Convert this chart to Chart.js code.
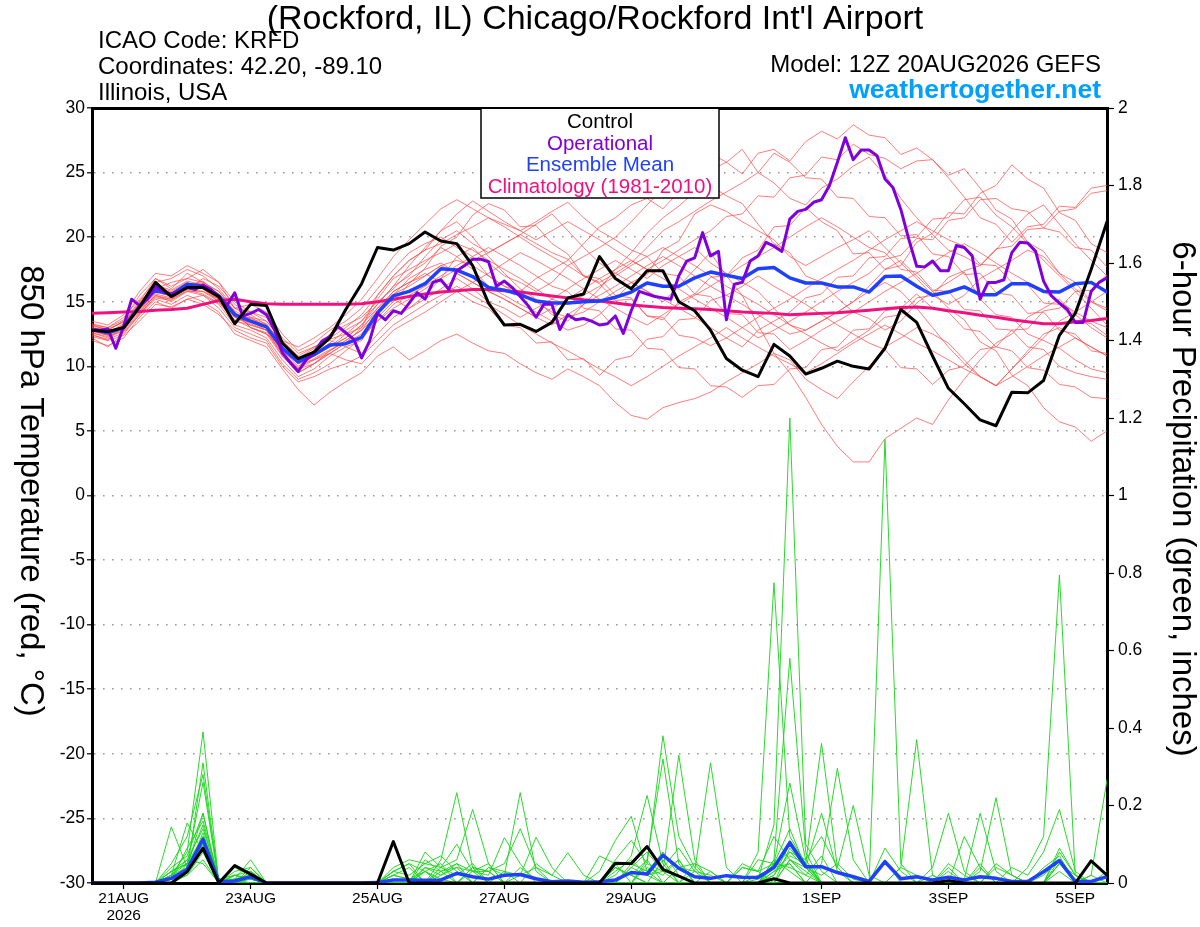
<!DOCTYPE html>
<html><head><meta charset="utf-8">
<script src="https://cdn.jsdelivr.net/npm/chart.js@4.4.1/dist/chart.umd.min.js"></script>
<style>html,body{margin:0;padding:0;background:#fff}#wrap{width:1200px;height:927px}</style>
</head><body><div id="wrap"><canvas id="c" width="1200" height="927"></canvas></div>
<script>
// ---------- data ----------
const stepHours = 6;      // ensemble / control / climatology interval
const opStepHours = 3;    // operational run interval
const xTickHours = [12, 60, 108, 156, 204, 276, 324, 372];
const xTickLabels = ['21AUG', '23AUG', '25AUG', '27AUG', '29AUG', '1SEP', '3SEP', '5SEP'];
const yearLabel = '2026';
const tempTicks = [-30, -25, -20, -15, -10, -5, 0, 5, 10, 15, 20, 25, 30];
const precipTicks = [0, 0.2, 0.4, 0.6, 0.8, 1, 1.2, 1.4, 1.6, 1.8, 2];
const precipTickLabels = ['0', '0.2', '0.4', '0.6', '0.8', '1', '1.2', '1.4', '1.6', '1.8', '2'];

const controlTemp = [12.8,12.7,13.0,14.6,16.5, 15.4,16.1,16.1,15.4,13.3, 14.8,14.7,11.8,10.6,11.1, 12.2,14.4,16.4,19.2,19.0, 19.5,20.4,19.7,19.5,17.8, 14.9,13.2,13.25,12.7,13.4, 15.3,15.6,18.5,16.8,16.0, 17.4,17.4,15.0,14.3,12.8, 10.6,9.7,9.2,11.7,10.8, 9.4,9.85,10.4,10.0,9.8, 11.4,14.4,13.4,10.8,8.3, 7.1,5.85,5.4,8.0,7.95, 8.9,12.4,14.1,17.5,21.2];
const operationalTemp = [12.85,12.8,12.9,11.4,13.1, 15.2,14.7,15.2,16.2,15.8, 15.6,15.8,16.1,15.95,16.3, 15.95,15.4,14.7,15.7,13.9, 14.1,14.4,14.0,12.85,11.05, 10.3,9.6,10.5,11.05,11.95, 12.3,13.1,12.6,12.1,10.65, 11.95,14.1,13.6,14.3,14.1, 14.9,15.7,15.2,16.5,16.7, 15.95,17.4,17.8,18.3,18.3, 18.1,16.2,16.6,16.1,15.4, 14.7,13.8,14.8,14.8,12.85, 14.0,13.6,13.7,13.5,13.2,
  13.3,13.9,12.55,14.3,15.8, 15.6,15.4,15.3,15.2,17.0, 18.15,18.4,20.35,18.55,18.9, 13.6,16.35,16.5,18.15,18.55, 19.6,19.3,18.9,21.4,22.0, 22.15,22.7,22.9,24.0,25.8, 27.7,26.0,26.75,26.75,26.3, 24.5,23.85,22.15,19.85,17.75, 17.7,18.15,17.4,17.4,19.35, 19.2,18.55,15.2,16.5,16.5, 16.7,18.8,19.6,19.55,18.9, 16.6,15.45,14.9,14.4,13.4, 13.4,15.8,16.5,16.85];
const meanTemp = [12.85,12.6,13.0,14.65,15.9, 15.55,16.35,16.2,15.45,14.0, 13.5,13.05,11.4,10.35,10.9, 11.65,11.75,12.25,14.15,15.45, 15.8,16.4,17.55,17.45,16.95, 16.1,15.9,15.55,15.05,14.9, 14.9,15.0,15.05,15.35,15.75, 16.45,16.2,16.2,16.85,17.3, 17.05,16.8,17.55,17.65,16.85, 16.45,16.45,16.15,16.15,15.75, 16.95,17.0,16.2,15.5,15.75, 16.15,15.55,15.55,16.4,16.4, 15.8,15.75,16.4,16.5,15.75];
const climoTemp = [14.1,14.15,14.2,14.25,14.35, 14.4,14.5,14.8,15.1,15.2, 15.0,14.85,14.8,14.8,14.8, 14.8,14.8,14.85,15.0,15.2, 15.4,15.6,15.75,15.85,15.95, 15.95,15.85,15.75,15.6,15.45, 15.3,15.15,15.05,14.9,14.75, 14.65,14.55,14.5,14.45,14.4, 14.3,14.2,14.15,14.1,14.0, 14.05,14.1,14.15,14.25,14.35, 14.45,14.55,14.6,14.5,14.3, 14.15,13.95,13.8,13.6,13.45, 13.3,13.3,13.45,13.55,13.7];
const controlPrecip = [0,0,0,0,0, 0,0.029,0.09,0,0.045, 0.023,0,0,0,0, 0,0,0,0,0.107, 0,0,0,0,0, 0,0,0,0,0, 0,0,0,0.051,0.05, 0.094,0.035,0.018,0,0, 0,0,0,0.011,0, 0,0,0,0,0, 0,0,0,0,0.006, 0,0,0,0,0, 0,0,0,0.057,0.02];
const meanPrecip = [0,0,0,0,0.002, 0.012,0.035,0.113,0.003,0.005, 0.016,0,0,0,0, 0,0,0,0.001,0.008, 0.008,0.007,0.008,0.025,0.016, 0.01,0.02,0.022,0.011,0.003, 0.005,0.002,0.003,0.008,0.027, 0.023,0.072,0.038,0.016,0.012, 0.019,0.015,0.014,0.04,0.104, 0.042,0.042,0.027,0.016,0.004, 0.055,0.011,0.016,0.008,0.015, 0.008,0.016,0.012,0.004,0.004, 0.029,0.058,0.004,0.004,0.016];

// ensemble member 850 hPa temperatures
const m01T = [12.5,12.0,13.2,15.0,16.8, 16.0,17.2,16.5,15.8,14.2, 13.0,12.5,10.8,9.5,10.2, 11.0,11.8,13.0,15.5,17.0, 18.2,19.0,20.5,21.2,20.0, 18.5,17.2,16.0,15.2,14.0, 13.5,14.8,16.0,17.5,18.8, 20.3,21.5,22.4,23.5,24.0, 23.2,22.6,21.0,19.5,18.8, 17.0,16.5,15.3,14.2,13.7, 12.8,13.5,14.9,15.8,16.5, 17.3,15.2,14.0,13.8,12.5, 12.0,11.4,10.5,9.8,9.5];
const m02T = [13.0,12.8,13.5,14.2,15.5, 15.2,16.0,16.8,16.2,14.8, 14.0,13.2,11.0,9.8,10.5, 11.2,12.0,12.8,14.0,15.2, 14.5,15.5,16.8,18.5,19.2, 18.0,17.0,16.5,15.8,16.5, 17.8,18.5,19.2,20.0,21.2, 22.5,23.8,23.2,25.2,26.5, 25.8,26.8,25.0,24.2,23.0, 22.5,23.8,24.5,25.5,26.2, 24.8,23.0,21.5,20.2,19.0, 18.5,17.8,19.0,20.5,21.8, 22.5,21.0,19.5,18.2,17.0];
const m03T = [12.2,11.5,12.5,14.0,15.2, 14.8,15.5,15.0,14.2,12.5, 12.0,11.5,9.8,8.2,7.0, 8.0,8.8,9.5,10.8,11.5, 10.5,11.2,12.0,12.5,11.8, 11.2,11.0,10.2,9.5,9.0, 9.8,9.2,8.5,7.2,6.2, 5.9,6.8,7.2,7.5,8.0, 8.8,9.5,10.2,11.0,10.5, 9.0,8.2,7.5,8.8,10.0, 11.5,12.2,13.0,12.5,11.8, 10.5,9.2,8.5,9.8,11.2, 12.5,13.0,12.2,11.5,10.8];
const m04T = [13.2,13.0,13.8,15.2,16.5, 16.8,17.5,17.0,16.0,14.5, 14.8,14.2,12.5,11.2,11.8, 12.8,13.5,14.5,16.0,17.5, 18.8,19.5,20.0,19.2,18.5, 17.0,16.2,15.8,16.8,17.5, 18.2,19.5,20.8,21.5,22.5, 23.0,22.2,23.5,24.8,25.2, 25.8,24.9,26.5,26.8,25.9, 27.4,28.2,27.6,28.7,27.9, 27.7,26.4,26.9,26.0,24.8, 25.3,23.8,22.1,21.4,19.6, 18.9,17.2,16.5,15.0,14.3];
const m05T = [12.8,12.5,13.0,14.5,15.8, 15.5,16.2,16.0,15.0,13.8, 13.2,12.8,11.2,10.0,10.8, 11.5,12.2,13.2,14.8,16.2, 17.0,18.5,19.8,20.5,19.5, 18.8,19.5,20.2,21.0,21.8, 20.5,19.2,18.0,17.2,16.5, 15.8,15.0,16.2,17.5,18.8, 17.0,15.5,13.2,11.0,9.5, 7.6,5.5,3.8,2.6,2.6, 4.4,5.2,6.0,5.5,7.4, 9.0,10.5,11.8,12.5,13.8, 14.5,15.2,14.0,13.0,12.2];
const m06T = [13.0,12.6,13.2,14.8,16.2, 15.8,16.5,16.0,15.2,13.5, 13.8,13.5,12.0,10.8,11.5, 12.0,11.5,11.0,12.5,13.8, 14.5,15.2,16.0,16.8,16.0, 15.0,14.5,13.8,14.5,15.2, 16.0,16.8,17.5,18.2,17.5, 16.8,17.8,18.5,19.2,18.0, 17.2,16.5,15.8,14.5,13.2, 12.8,13.5,14.2,15.0,16.2, 17.5,18.2,17.0,15.8,14.5, 13.6,11.9,11.2,9.3,8.5, 6.8,5.7,5.3,4.2,5.0];
const m07T = [12.6,12.2,12.8,14.2,15.5, 15.0,15.8,15.5,14.8,13.2, 12.8,12.2,10.5,9.2,9.8, 10.8,11.5,12.0,13.8,15.0, 16.4,17.6,19.3,20.0,21.7, 22.6,22.1,20.8,20.9,19.5, 18.7,17.0,16.4,15.1,15.2, 13.9,13.6,15.0,15.6,16.9, 17.0,18.4,19.0,20.8,20.9, 22.3,21.2,20.5,18.7,18.8, 17.5,17.8,19.6,20.3,21.9, 21.8,23.4,24.0,25.6,24.5, 23.8,21.9,21.3,19.5,18.8];
const m08T = [13.1,12.9,13.4,15.1,16.0, 15.6,16.2,16.6,15.5,14.2, 13.0,12.5,11.5,10.5,11.2, 12.5,13.2,13.8,15.0,16.0, 17.2,18.0,19.2,18.5,17.5, 16.2,15.5,14.8,14.2,13.5, 12.8,13.2,14.0,15.2,16.5, 17.1,19.0,19.7,21.8,22.5, 22.0,21.2,20.5,19.8,18.5, 17.8,18.5,19.2,19.8,20.5, 19.2,18.0,16.8,15.5,14.8, 15.5,16.8,17.5,18.2,19.0, 18.5,17.2,16.0,15.0,14.5];
const m09T = [12.9,12.7,13.1,14.5,16.0, 16.5,16.8,17.5,16.5,14.5, 13.8,13.0,11.2,10.2,10.5, 11.0,11.8,12.5,14.2,15.8, 16.5,17.0,17.8,18.2,17.8, 17.0,16.2,15.5,15.0,14.2, 13.8,14.2,15.0,15.8,16.5, 15.8,15.2,14.5,13.8,13.0, 12.2,11.5,12.8,13.5,14.2, 15.3,15.6,16.9,17.0,18.4, 18.5,19.9,20.0,21.4,21.5, 22.9,23.1,21.7,20.8,19.5, 18.2,17.0,15.8,14.5,13.2];
const m10T = [12.4,12.1,12.6,14.0,15.4, 15.2,15.8,15.8,15.0,13.5, 13.2,12.8,10.8,9.5,10.2, 11.0,10.5,10.2,11.5,12.8, 13.5,14.2,15.0,15.8,16.5, 15.8,15.2,14.5,13.8,13.2, 14.0,14.8,15.5,16.2,17.0, 17.8,18.5,17.8,17.0,16.2, 15.5,14.8,14.0,13.2,12.5, 12.8,13.5,14.2,15.0,15.8, 16.5,15.8,14.5,13.0,11.5, 10.2,9.2,8.5,9.8,11.0, 12.2,13.5,14.2,15.0,15.8];
const m11T = [13.3,13.0,13.6,15.5,16.8, 16.2,16.8,16.5,15.8,14.5, 14.2,13.8,12.2,11.0,11.5, 12.2,13.0,14.0,15.5,17.0, 18.2,19.0,19.5,20.2,20.8, 21.5,21.0,20.5,21.2,22.0, 22.7,21.5,20.5,19.8,19.0, 18.5,17.2,17.0,15.6,15.4, 14.1,14.0,12.6,12.5,11.3, 12.0,12.8,13.5,14.2,15.0, 15.8,16.5,17.2,18.0,18.8, 19.5,18.8,18.0,17.2,16.5, 15.8,15.0,14.2,13.5,13.0];
const m12T = [12.7,12.4,13.0,14.3,15.6, 15.3,16.0,15.8,15.2,14.0, 13.5,12.8,11.5,10.2,10.8, 11.5,12.5,13.5,15.2,16.8, 17.5,18.2,18.8,19.5,19.0, 18.2,17.5,16.8,16.0,15.2, 14.8,15.5,16.2,17.0,17.8, 18.5,19.2,18.5,17.8,17.0, 16.2,15.5,14.8,14.0,13.2, 12.5,11.8,11.2,12.0,12.8, 13.8,14.0,15.3,15.5,16.9, 17.4,17.8,19.1,19.3,20.6, 20.7,22.0,22.2,23.4,23.6];
const m13T = [12.0,11.6,12.2,13.8,15.0, 14.5,15.2,14.8,14.0,12.8, 12.2,11.8,10.0,8.8,9.2, 9.8,10.2,10.8,12.0,13.2, 14.0,14.8,15.5,16.2,15.5, 14.8,14.0,13.2,12.5,11.8, 11.2,10.5,9.8,9.2,8.5, 9.2,10.0,10.8,11.5,12.2, 13.0,12.2,11.5,10.8,10.2, 9.5,10.2,11.0,11.8,12.5, 13.2,12.5,11.8,11.2,10.5, 9.8,9.2,8.5,9.2,10.0, 10.8,11.5,12.2,11.5,10.8];
const m14T = [13.5,13.2,14.0,15.8,17.2, 17.0,17.8,17.2,16.5,15.0, 14.2,13.5,12.0,11.5,12.2, 13.0,14.0,15.2,16.8,18.5, 19.8,21.0,22.2,22.9,22.2, 21.5,20.8,20.0,19.2,18.5, 17.8,17.0,16.5,17.2,18.0, 19.2,20.5,21.2,22.0,22.8, 23.5,24.2,25.0,26.5,25.8, 24.6,24.5,23.1,23.0,21.6, 21.5,20.1,20.2,18.7,18.5, 17.1,17.2,15.7,15.5,14.1, 14.2,12.8,12.5,11.2,11.0];
const m15T = [12.3,12.0,12.4,13.5,14.8, 14.6,15.2,15.5,14.5,13.0, 12.5,12.0,10.2,9.0,9.5, 10.2,11.2,12.2,13.5,14.5, 15.2,16.0,16.8,17.5,18.2, 18.8,19.5,20.2,19.5,18.8, 18.3,17.0,16.8,15.5,15.3, 13.9,13.8,12.4,12.2,11.6, 12.2,13.0,13.8,14.5,15.2, 16.0,16.8,17.5,18.2,19.0, 19.8,20.5,21.2,20.5,19.8, 19.3,17.9,17.8,16.5,16.3, 14.9,14.8,13.5,13.3,12.4];
const m16T = [12.9,12.6,13.3,14.9,16.3, 15.9,16.6,16.3,15.6,14.3, 13.6,13.2,11.8,10.5,11.0, 11.8,12.8,13.5,14.8,16.2, 17.8,19.2,20.5,21.8,22.8, 22.0,21.2,20.5,19.8,20.5, 21.2,20.5,19.8,19.0,18.2, 17.5,18.2,19.0,19.8,20.5, 21.6,21.8,23.2,23.1,24.6, 24.8,26.2,26.0,27.2,26.4, 26.1,25.3,25.9,26.0,24.6, 23.1,21.5,21.0,19.6,20.8, 21.0,22.4,22.3,23.8,24.0];
const m17T = [13.2,12.8,13.5,14.6,15.8, 15.4,16.0,16.2,15.3,13.8, 13.3,12.8,11.0,9.8,10.2, 11.2,12.0,12.8,14.5,15.8, 16.5,17.2,16.5,15.8,15.0, 14.5,13.2,13.0,11.8,11.9, 10.5,10.6,9.3,10.5,10.8, 12.1,12.3,13.6,13.7,15.1, 15.5,16.2,17.0,16.2,15.5, 14.8,14.0,13.2,12.5,11.8, 11.3,9.9,9.8,8.6,9.7, 10.0,11.3,11.5,12.8,12.9, 14.3,14.5,15.8,15.9,17.1];
const m18T = [12.6,12.3,12.9,14.4,15.7, 15.5,16.3,16.0,15.2,13.8, 13.4,13.0,11.5,10.5,11.0, 11.5,12.2,13.2,14.5,15.5, 16.8,17.5,18.0,17.2,16.5, 17.2,18.0,18.8,18.2,17.5, 16.8,16.0,15.2,14.5,13.8, 13.2,14.0,14.8,15.5,16.2, 17.0,17.8,18.5,19.2,20.0, 20.8,21.5,20.8,20.0,19.2, 18.8,17.5,17.3,15.9,15.8, 14.4,14.3,12.9,12.8,11.5, 11.3,10.0,9.5,9.2,9.0];
const m19T = [13.0,12.5,13.1,14.7,16.1, 15.7,16.4,16.4,15.4,14.1, 13.7,13.3,11.7,10.6,11.4, 12.1,12.5,13.0,14.2,15.6, 16.2,17.0,17.8,17.2,16.5, 15.8,15.2,14.5,13.8,14.5, 15.2,16.0,16.8,17.5,18.2, 17.5,16.8,16.0,15.2,14.5, 13.8,13.0,12.2,12.8,13.5, 14.2,15.0,15.8,16.5,17.2, 18.3,18.6,19.9,19.8,21.3, 21.5,22.9,23.0,22.2,22.0, 20.7,20.4,19.2,19.0,17.7];
const m20T = [12.8,12.4,12.7,14.1,15.3, 15.1,15.9,15.6,14.9,13.6, 13.0,12.6,11.0,9.9,10.6, 11.3,11.8,12.3,13.5,14.8, 15.5,16.2,17.0,17.8,18.5, 19.2,18.5,17.8,17.0,16.2, 15.8,14.5,14.3,12.9,12.8, 11.4,11.3,9.9,9.8,8.5, 8.4,7.6,8.5,8.6,9.8, 9.9,11.3,11.5,12.8,12.9, 14.3,14.5,15.6,14.5,14.2, 12.9,12.7,11.5,11.2,9.9, 9.7,8.6,8.4,7.6,7.5];

// ensemble member 6-hour precipitation
const m01P = [0,0,0,0,0, 0.02,0.08,0.39,0,0, 0.01,0,0,0,0, 0,0,0,0,0.02, 0.01,0.03,0,0,0, 0,0,0.04,0.01,0, 0,0,0,0,0.05, 0.03,0.08,0.02,0,0, 0,0,0.01,0.15,1.2, 0.1,0.03,0,0,0, 0,0,0,0.02,0, 0,0,0,0,0, 0,0.03,0,0,0];
const m02P = [0,0,0,0,0, 0.05,0.12,0.28,0,0.03, 0.04,0,0,0,0, 0,0,0,0,0.04, 0.06,0.05,0.07,0.03,0, 0,0,0,0,0, 0,0,0,0.04,0.02, 0.06,0,0,0,0, 0,0,0,0.02,0.08, 0.04,0.02,0.05,0.01,0, 1.145,0.05,0,0,0, 0,0,0,0,0, 0,0.05,0,0,0];
const m03P = [0,0,0,0,0, 0,0.04,0.18,0,0.02, 0.01,0,0,0,0, 0,0,0,0,0, 0,0.08,0.04,0.1,0.03, 0,0,0,0,0, 0,0,0,0.03,0.06, 0.02,0.04,0.09,0.03,0, 0,0,0.08,0.775,0.12, 0.05,0,0,0,0, 0,0,0,0,0.05, 0.02,0,0,0,0.04, 0.12,0.795,0.02,0,0];
const m04P = [0,0,0,0,0, 0.01,0.03,0.13,0,0, 0.03,0,0,0,0, 0,0,0,0,0, 0,0.06,0.03,0,0, 0,0,0,0.05,0.02, 0,0,0,0.06,0.11, 0.05,0.38,0.12,0.04,0, 0,0,0,0.06,0.58, 0.08,0,0,0,0, 0,0,0,0,0, 0,0.04,0,0,0, 0,0,0,0.02,0];
const m05P = [0,0,0,0,0, 0.03,0.06,0.14,0.01,0, 0.02,0,0,0,0, 0,0,0,0,0.03, 0.05,0,0.06,0.233,0.04, 0,0,0,0,0, 0,0,0,0,0.04, 0.08,0.03,0.33,0.06,0, 0,0,0,0.02,0.1, 0.05,0.36,0.04,0,0, 0,0,0,0,0.04, 0,0,0,0,0, 0,0.06,0,0,0];
const m06P = [0,0,0,0,0, 0,0.05,0.26,0,0.01, 0.06,0,0,0,0, 0,0,0,0,0, 0,0.03,0.05,0,0, 0.04,0.02,0.233,0.03,0, 0,0,0,0,0, 0,0,0.04,0.03,0.31, 0.04,0,0,0,0.06, 0.02,0,0,0,0, 0,0.04,0.37,0.02,0, 0,0,0,0,0, 0,0,0,0,0.03];
const m07P = [0,0,0,0,0, 0.145,0.04,0.1,0,0, 0,0,0,0,0, 0,0,0,0,0.03, 0.02,0.05,0.04,0.06,0.19, 0.05,0,0,0,0, 0,0,0,0.02,0.07, 0.226,0.05,0,0,0, 0,0,0,0,0, 0,0.05,0.296,0.06,0, 0,0,0,0,0, 0,0,0,0,0, 0,0.05,0.02,0,0];
const m08P = [0,0,0,0,0, 0.02,0.155,0.08,0,0, 0,0,0,0,0, 0,0,0,0,0, 0,0.04,0.02,0.05,0.03, 0.02,0.117,0.05,0,0, 0,0,0,0,0, 0.04,0.02,0.06,0,0, 0,0,0,0.05,0.08, 0.06,0.12,0.04,0.2,0.02, 0,0,0,0,0, 0,0.03,0.22,0.02,0, 0,0,0,0,0];
const m09P = [0,0,0,0,0, 0.01,0.09,0.16,0.01,0, 0.04,0,0,0,0, 0,0,0,0,0, 0,0,0,0,0.04, 0.03,0.05,0.14,0.04,0.02, 0.078,0.02,0,0,0, 0,0.06,0,0,0, 0,0,0,0.03,0.05, 0,0,0,0,0, 0,0,0,0.04,0.18, 0.03,0,0,0,0, 0,0,0,0.02,0.266];
const m10P = [0,0,0,0,0, 0,0.03,0.31,0,0.04, 0.02,0,0,0,0, 0,0,0,0,0.03, 0.05,0.03,0,0,0, 0,0,0.02,0.118,0.04, 0,0,0,0,0, 0.06,0.32,0.05,0,0, 0,0,0,0,0.09, 0.04,0,0,0,0, 0,0,0,0,0, 0.01,0.18,0.03,0,0, 0,0,0,0,0];
const m11P = [0,0,0,0,0, 0.04,0.07,0.18,0,0, 0.03,0,0,0,0, 0,0,0,0,0, 0,0,0.02,0.04,0.03, 0.05,0,0,0,0, 0,0,0.07,0.05,0, 0,0,0,0.05,0.03, 0,0,0.06,0.05,0.258, 0.06,0,0,0,0, 0,0,0,0,0, 0,0,0,0.04,0.02, 0.08,0.19,0.03,0,0];
const m12P = [0,0,0,0,0, 0.02,0.05,0.12,0.01,0.02, 0.01,0,0,0,0, 0,0,0,0,0, 0,0.04,0.03,0.05,0, 0,0,0,0,0, 0,0,0.03,0.11,0.172, 0.03,0,0,0,0, 0,0,0,0,0.06, 0.04,0.18,0.03,0,0, 0,0,0,0,0, 0.12,0.04,0,0,0, 0,0,0,0,0];
const m13P = [0,0,0,0,0, 0.01,0.02,0.06,0,0, 0,0,0,0,0, 0,0,0,0,0, 0,0,0.03,0.04,0, 0,0,0,0,0, 0,0,0,0,0.03, 0.02,0,0,0,0, 0,0,0.02,0.04,0.11, 0.05,0,0,0,0, 0,0,0,0,0, 0,0,0,0,0, 0.02,0.06,0,0,0];
const m14P = [0,0,0,0,0, 0.03,0.05,0.15,0,0.01, 0,0,0,0,0, 0,0,0,0,0.02, 0.01,0,0,0,0, 0.04,0.03,0,0,0, 0,0,0,0.04,0.02, 0,0,0,0,0, 0,0.05,0.03,0.12,0.06, 0.03,0,0,0,0, 0.06,0,0,0,0, 0,0.05,0,0,0, 0,0,0,0,0];
const m15P = [0,0,0,0,0, 0.01,0.04,0.11,0,0.02, 0.03,0,0,0,0, 0,0,0,0,0, 0,0.03,0.01,0,0, 0,0,0,0,0, 0,0,0,0,0.04, 0.02,0.03,0.06,0,0, 0,0,0,0.05,0.04, 0.02,0.07,0,0,0, 0,0,0,0,0, 0,0,0.04,0.02,0, 0,0,0,0,0];
const m16P = [0,0,0,0,0, 0.02,0.06,0.05,0,0, 0.02,0,0,0,0, 0,0,0,0,0, 0,0,0.04,0.02,0.05, 0,0,0,0,0, 0,0,0,0,0, 0,0,0,0.03,0.02, 0,0,0,0.06,0.03, 0,0,0,0,0, 0.09,0.03,0,0,0, 0,0,0,0,0, 0,0.08,0.02,0,0];
const m17P = [0,0,0,0,0, 0.01,0.03,0.1,0,0.01, 0.02,0,0,0,0, 0,0,0,0,0, 0,0,0,0,0.03, 0.03,0,0,0,0, 0,0,0,0,0, 0,0,0.04,0.05,0, 0,0,0,0.04,0.05, 0,0,0,0,0, 0,0,0,0,0.03, 0,0,0.05,0.02,0, 0,0,0,0,0];
const m18P = [0,0,0,0,0, 0,0.02,0.08,0,0.02, 0.01,0,0,0,0, 0,0,0,0,0, 0,0,0,0,0, 0,0.03,0.02,0.04,0, 0,0,0,0,0, 0.05,0.03,0,0,0, 0,0.04,0.03,0,0, 0,0,0,0,0, 0,0.04,0.02,0,0, 0,0,0,0,0, 0,0.05,0.01,0,0];
const m19P = [0,0,0,0,0, 0.02,0.04,0.12,0,0, 0,0,0,0,0, 0,0,0,0,0.02, 0.04,0,0,0,0, 0,0,0,0,0, 0,0,0,0.04,0.02, 0,0,0,0,0, 0,0,0,0.03,0.07, 0.05,0,0,0,0, 0,0,0,0,0, 0,0,0,0,0, 0.04,0.07,0,0,0];
const m20P = [0,0,0,0,0, 0.03,0.05,0.09,0.01,0.01, 0.02,0,0,0,0, 0,0,0,0,0, 0,0,0,0,0.04, 0.03,0,0,0,0, 0,0,0,0,0, 0,0,0,0,0.03, 0,0.04,0.03,0.05,0.14, 0.04,0,0,0,0, 0,0,0,0,0, 0,0,0,0,0, 0,0.09,0.02,0,0];

const memberTemps = [m01T,m02T,m03T,m04T,m05T,m06T,m07T,m08T,m09T,m10T,m11T,m12T,m13T,m14T,m15T,m16T,m17T,m18T,m19T,m20T];
const memberPrecips = [m01P,m02P,m03P,m04P,m05P,m06P,m07P,m08P,m09P,m10P,m11P,m12P,m13P,m14P,m15P,m16P,m17P,m18P,m19P,m20P];

// ---------- text ----------
const titleText = "(Rockford, IL) Chicago/Rockford Int'l Airport";
const infoLines = ['ICAO Code: KRFD', 'Coordinates: 42.20, -89.10', 'Illinois, USA'];
const modelText = 'Model: 12Z 20AUG2026 GEFS';
const siteText = 'weathertogether.net';
const legendItems = [
  {label: 'Control', color: '#000000'},
  {label: 'Operational', color: '#8000DC'},
  {label: 'Ensemble Mean', color: '#2040FF'},
  {label: 'Climatology (1981-2010)', color: '#F01080'}
];
const leftTitle = '850 hPa Temperature (red, \u00B0C)';
const rightTitle = '6-hour Precipitation (green, inches)';

// ---------- chart ----------
const FONT = "'Liberation Sans', Arial, Helvetica, sans-serif";
const toXY = (arr, step) => arr.map((v, i) => ({x: i * step, y: v}));
const line = (data, axis, color, width, extra) => Object.assign({
  data, yAxisID: axis, borderColor: color, borderWidth: width, pointRadius: 0,
  fill: false, tension: 0, borderJoinStyle: 'round', borderCapStyle: 'round'
}, extra || {});

const datasets = [];
// first in list = drawn on top
datasets.push(line(toXY(controlTemp, stepHours), 'yT', '#000000', 3));
datasets.push(line(toXY(controlPrecip, stepHours), 'yP', '#000000', 3));
datasets.push(line(toXY(operationalTemp, opStepHours), 'yT', '#8000DC', 3));
datasets.push(line(toXY(meanTemp, stepHours), 'yT', '#2040FF', 3.5));
datasets.push(line(toXY(meanPrecip, stepHours), 'yP', '#2040FF', 3.5));
datasets.push(line(toXY(climoTemp, stepHours), 'yT', '#F01080', 3));
memberPrecips.forEach(a => datasets.push(line(toXY(a, stepHours), 'yP', 'rgba(30,215,30,0.95)', 1, {borderJoinStyle: 'miter'})));
memberTemps.forEach(a => datasets.push(line(toXY(a, stepHours), 'yT', 'rgba(255,70,70,0.7)', 1, {borderJoinStyle: 'miter'})));

const decorPlugin = {
  id: 'decor',
  beforeDraw(chart) {
    const ctx = chart.ctx;
    ctx.save(); ctx.fillStyle = '#fff'; ctx.fillRect(0, 0, chart.width, chart.height); ctx.restore();
  },
  afterDraw(chart) {
    const ctx = chart.ctx;
    ctx.save();
    ctx.textBaseline = 'alphabetic';
    // title
    ctx.font = '34px ' + FONT; ctx.fillStyle = '#000'; ctx.textAlign = 'center';
    ctx.fillText(titleText, 595, 29);
    // left info
    ctx.font = '24px ' + FONT; ctx.textAlign = 'left';
    ctx.fillText(infoLines[0], 98, 48);
    ctx.fillText(infoLines[1], 98, 74);
    ctx.fillText(infoLines[2], 98, 100);
    // right info
    ctx.textAlign = 'right';
    ctx.fillText(modelText, 1101, 72);
    ctx.font = 'bold 26.5px ' + FONT; ctx.fillStyle = '#00A0FF';
    ctx.fillText(siteText, 1101, 98);
    // legend box
    ctx.fillStyle = '#fff';
    ctx.fillRect(481, 109, 238, 89);
    ctx.strokeStyle = '#000'; ctx.lineWidth = 1.5;
    ctx.strokeRect(481, 108, 238, 90);
    ctx.font = '20.5px ' + FONT; ctx.textAlign = 'center';
    const ys = [128, 149.5, 171, 193];
    legendItems.forEach((it, i) => { ctx.fillStyle = it.color; ctx.fillText(it.label, 600, ys[i]); });
    // axis titles (rotated, reading top-to-bottom)
    ctx.fillStyle = '#000'; ctx.font = '33px ' + FONT; ctx.textBaseline = 'middle';
    ctx.save(); ctx.translate(30, 491); ctx.rotate(Math.PI / 2); ctx.fillText(leftTitle, 0, 0); ctx.restore();
    ctx.save(); ctx.translate(1182, 499); ctx.rotate(Math.PI / 2); ctx.fillText(rightTitle, 0, 0); ctx.restore();
    ctx.restore();
  }
};

new Chart(document.getElementById('c'), {
  type: 'line',
  data: {datasets},
  plugins: [decorPlugin],
  options: {
    responsive: false, animation: false, devicePixelRatio: 1,
    parsing: true, normalized: true,
    layout: {padding: {top: 108, left: 0, right: 0, bottom: 0}, autoPadding: false},
    plugins: {legend: {display: false}, tooltip: {enabled: false}, title: {display: false}},
    scales: {
      x: {
        type: 'linear', position: 'bottom', min: 0, max: 384,
        afterBuildTicks: s => { s.ticks = xTickHours.map(v => ({value: v})); },
        afterFit: s => { s.height = 44; },
        ticks: {
          autoSkip: false, maxRotation: 0, minRotation: 0, color: '#000', padding: 1,
          font: {family: FONT, size: 15.5, lineHeight: 1.1},
          callback: v => { const i = xTickHours.indexOf(v); return i === 0 ? [xTickLabels[0], yearLabel] : xTickLabels[i]; }
        },
        grid: {drawOnChartArea: false, drawTicks: true, tickLength: 6, tickColor: '#000', tickWidth: 1.2},
        border: {display: true, color: '#000', width: 3}
      },
      x2: {
        type: 'linear', position: 'top', min: 0, max: 384,
        afterFit: s => { s.height = 0; },
        ticks: {display: false},
        grid: {display: false, drawTicks: false},
        border: {display: true, color: '#000', width: 3}
      },
      yT: {
        type: 'linear', position: 'left', min: -30, max: 30,
        afterBuildTicks: s => { s.ticks = tempTicks.map(v => ({value: v})); },
        afterFit: s => { s.width = 92; },
        ticks: {color: '#000', padding: 2, font: {family: FONT, size: 17.5}, callback: v => String(v)},
        grid: {
          color: c => (c.tick && Math.abs(c.tick.value) === 30) ? 'rgba(0,0,0,0)' : '#9c9c9c',
          lineWidth: 1.6, drawTicks: true, tickLength: 5, tickColor: '#000', tickWidth: 1.2
        },
        border: {display: true, color: '#000', width: 3, dash: [1.6, 7.4]}
      },
      yP: {
        type: 'linear', position: 'right', min: 0, max: 2,
        afterBuildTicks: s => { s.ticks = precipTicks.map(v => ({value: v})); },
        afterFit: s => { s.width = 93; },
        ticks: {color: '#000', padding: 4, font: {family: FONT, size: 17.5},
          callback: v => { const i = precipTicks.indexOf(v); return i >= 0 ? precipTickLabels[i] : ''; }},
        grid: {drawOnChartArea: false, drawTicks: true, tickLength: 7, tickColor: '#000', tickWidth: 1.2},
        border: {display: true, color: '#000', width: 3}
      }
    }
  }
});
</script>
</body></html>
